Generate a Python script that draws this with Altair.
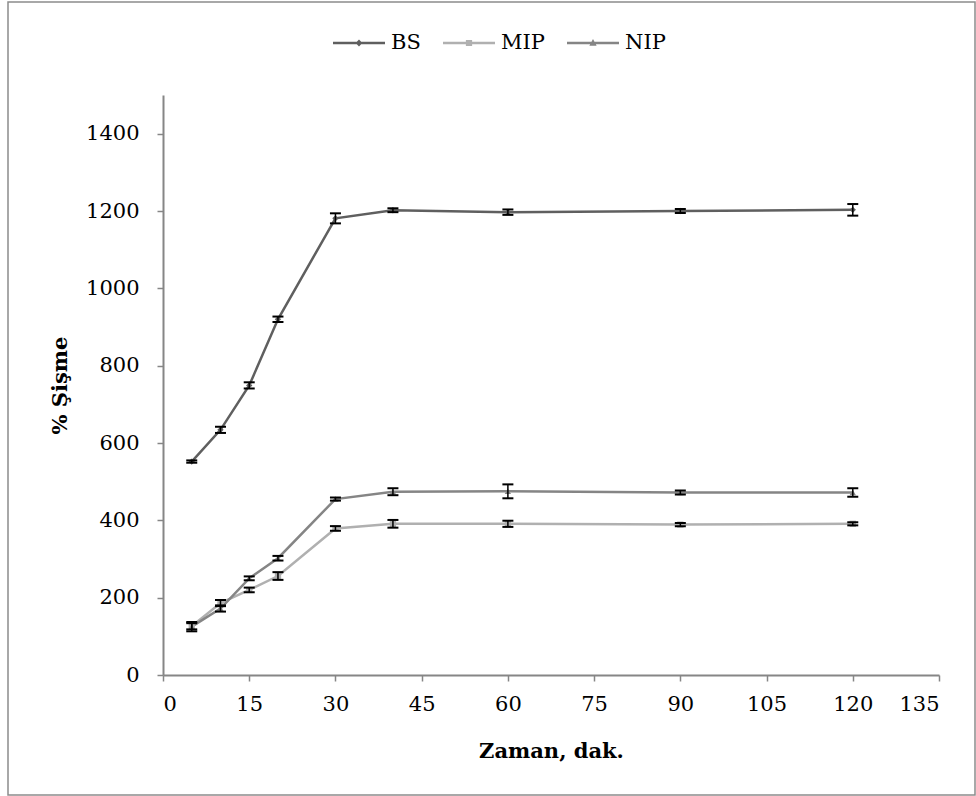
import altair as alt
import pandas as pd

series = ["BS", "MIP", "NIP"]
times = [5, 10, 15, 20, 30, 40, 60, 90, 120]
bs = [552, 634, 749, 920, 1181, 1202, 1197, 1200, 1203]
bs_err = [3, 8, 8, 7, 13, 5, 7, 5, 15]
mip = [126, 186, 220, 256, 379, 391, 391, 389, 391]
mip_err = [8, 8, 6, 10, 6, 10, 8, 4, 4]
nip = [125, 172, 250, 302, 455, 474, 475, 472, 472]
nip_err = [12, 8, 5, 6, 4, 9, 18, 5, 11]
x_ticks = [0, 15, 30, 45, 60, 75, 90, 105, 120, 135]
y_ticks = [0, 200, 400, 600, 800, 1000, 1200, 1400]

colors = ["#5f5f5f", "#b0b0b0", "#858585"]
marker_shapes = ["diamond", "square", "triangle-up"]
rect = "M-1,-0.045L1,-0.045L1,0.045L-1,0.045Z"
legend_paths = [
    rect + "M0,-0.13L0.13,0L0,0.13L-0.13,0Z",
    rect + "M-0.12,-0.12L0.12,-0.12L0.12,0.12L-0.12,0.12Z",
    rect + "M0,-0.15L0.14,0.11L-0.14,0.11Z",
]

rows = []
for name, vals, errs in zip(series, [bs, mip, nip], [bs_err, mip_err, nip_err]):
    for t, v, e in zip(times, vals, errs):
        rows.append({"series": name, "time": t, "value": v, "lo": v - e, "hi": v + e})
df = pd.DataFrame(rows)

FONT = "DejaVu Serif"

xs = alt.Scale(domain=[0, 135], nice=False, zero=False)
ys = alt.Scale(domain=[0, 1500], nice=False)
x_enc = alt.X("time:Q", scale=xs,
              axis=alt.Axis(values=x_ticks, title="Zaman, dak.", titlePadding=26))
y_enc = alt.Y("value:Q", scale=ys,
              axis=alt.Axis(values=y_ticks, format="d", title="% Şişme", titlePadding=15))
color_scale = alt.Scale(domain=series, range=colors)

base = alt.Chart(df)

legend_def = alt.Legend(title=None, orient="none", direction="horizontal",
                        legendX=170, legendY=-78, columnPadding=22,
                        labelOffset=6, symbolSize=2704, symbolStrokeWidth=0,
                        symbolOpacity=1, padding=0)

legend_layer = base.mark_point(filled=True, size=30, opacity=0).encode(
    x=x_enc, y=y_enc,
    color=alt.Color("series:N", scale=color_scale, legend=legend_def),
    shape=alt.Shape("series:N", scale=alt.Scale(domain=series, range=legend_paths),
                    legend=legend_def),
)

lines = base.mark_line(strokeWidth=2.5).encode(
    x="time:Q", y="value:Q",
    color=alt.Color("series:N", scale=color_scale, legend=None),
    detail="series:N",
)

markers = []
for name, shp in zip(series, marker_shapes):
    markers.append(
        base.transform_filter(alt.datum.series == name).mark_point(
            shape=shp, filled=True, size=40, opacity=1
        ).encode(
            x="time:Q", y="value:Q",
            color=alt.Color("series:N", scale=color_scale, legend=None),
        )
    )

err_rule = base.mark_rule(color="black", strokeWidth=1.5).encode(
    x="time:Q", y="lo:Q", y2="hi:Q"
)
err_lo = base.mark_tick(orient="horizontal", color="black", size=11, thickness=2, opacity=1).encode(
    x="time:Q", y="lo:Q"
)
err_hi = base.mark_tick(orient="horizontal", color="black", size=11, thickness=2, opacity=1).encode(
    x="time:Q", y="hi:Q"
)

border = alt.Chart(alt.Data(values=[{"a": 1}])).mark_rect(
    fill=None, stroke="#8c8c8c", strokeWidth=1.5
).encode(
    x=alt.value(8 - 163), x2=alt.value(975 - 163),
    y=alt.value(2 - 95), y2=alt.value(795 - 95),
)

chart = alt.layer(legend_layer, border, lines, *markers, err_rule, err_lo, err_hi).properties(
    width=776, height=580,
    autosize=alt.AutoSizeParams(type="none"),
    padding={"left": 163, "top": 95, "right": 37, "bottom": 121},
).configure(
    font=FONT,
).configure_view(
    stroke=None,
).configure_axis(
    grid=False,
    domainColor="#868686", domainWidth=2,
    tickColor="#868686", tickWidth=1.5, tickSize=6,
    labelFont=FONT, labelFontSize=21, labelColor="black",
    titleFont=FONT, titleFontSize=21, titleFontWeight="bold", titleColor="black",
).configure_axisY(
    labelPadding=18,
).configure_axisX(
    labelPadding=12,
).configure_legend(
    labelFont=FONT, labelFontSize=21, labelColor="black",
)

chart.save("out.html", embed_options={"renderer": "svg", "actions": False})
